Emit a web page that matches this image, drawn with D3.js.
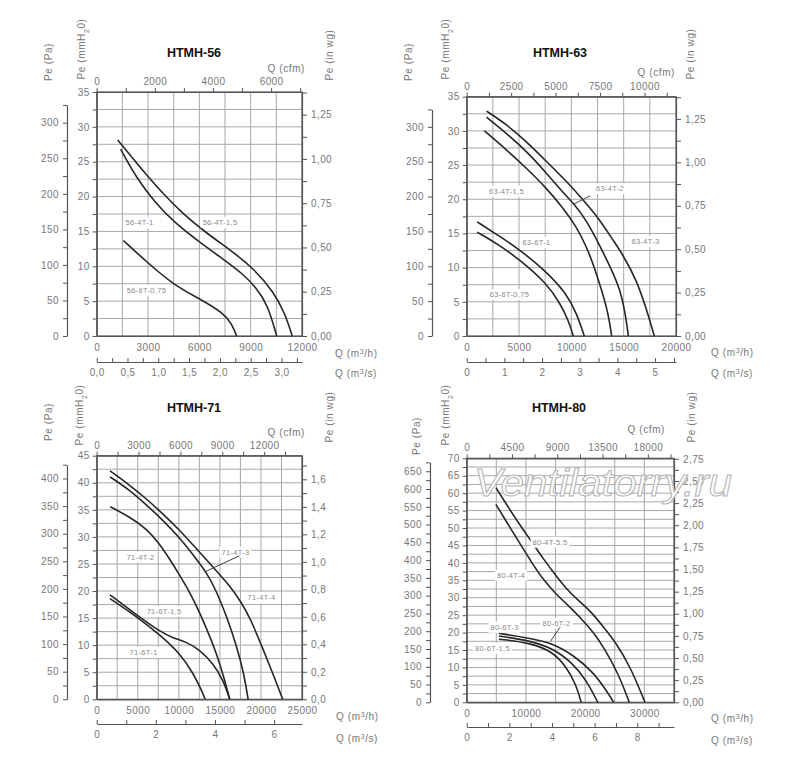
<!DOCTYPE html>
<html>
<head>
<meta charset="utf-8">
<script src="https://cdn.jsdelivr.net/npm/d3@7"></script>
<style>
  body { margin: 0; background: #fff; }
  text { font-family: "Liberation Sans", Arial, sans-serif; }
</style>
</head>
<body>
<svg id="chart" width="800" height="770"></svg>
<script>
// curves: [Q m3/h, Pe mmH2O]

var curves56 = [
  { name: "56-4T-1,5", pts: [[1230,28.1],[2500,24.3],[3800,20.6],[5000,17.6],[6500,14.6],[8000,12.0],[9200,9.6],[10320,6.4],[11000,3.3],[11430,0]] },
  { name: "56-4T-1",   pts: [[1400,26.8],[2340,22.6],[3400,19.2],[4480,16.4],[6040,13.4],[7520,10.8],[8500,9.0],[9300,7.0],[10000,4.5],[10520,0]] },
  { name: "56-6T-0,75", pts: [[1560,13.7],[3020,10.4],[4520,7.3],[6040,5.3],[7400,3.3],[7890,1.8],[8180,0]] }
];

var curves63 = [
  { name: "63-4T-3",   pts: [[1900,32.9],[3760,31.0],[5670,28.5],[7580,25.6],[9490,22.7],[11080,20.0],[12670,17.1],[13950,14.1],[14800,12.2],[16240,8.2],[17200,3.8],[17930,0]] },
  { name: "63-4T-2",   pts: [[1900,32.0],[3760,29.7],[5670,27.1],[7580,23.9],[9170,21.0],[10290,19.3],[11400,17.0],[12800,13.0],[13900,9.5],[14650,6.8],[15130,3.6],[15450,0]] },
  { name: "63-4T-1,5", pts: [[1690,30.0],[3760,27.3],[5670,24.6],[7580,21.7],[9170,18.8],[10440,16.1],[11400,13.2],[12100,10.5],[12900,6.7],[13530,3.3],[13850,0]] },
  { name: "63-6T-1",   pts: [[1000,16.7],[3120,14.6],[5000,12.7],[7480,9.6],[9550,6.2],[10510,3.3],[11240,0]] },
  { name: "63-6T-0,75", pts: [[1000,15.2],[3120,13.3],[5100,11.1],[7640,7.7],[8920,4.8],[9710,2.3],[10190,0]] }
];

var curves71 = [
  { name: "71-4T-4",   pts: [[1620,42.2],[3980,39.6],[6000,37.1],[8040,34.3],[10070,31.3],[12090,27.9],[14120,24.5],[16150,21.1],[17570,18.0],[18700,15.0],[20300,9.1],[21600,4.2],[22650,0]] },
  { name: "71-4T-3",   pts: [[1620,41.1],[3980,38.7],[6000,36.0],[8040,33.1],[10070,29.9],[12090,26.0],[13300,23.6],[14500,20.3],[15900,15.0],[17000,10.0],[17900,5.0],[18440,0]] },
  { name: "71-4T-2",   pts: [[1620,35.6],[3980,33.7],[6000,31.6],[7630,28.8],[8850,26.0],[10070,23.0],[11280,19.9],[12100,17.4],[13300,13.4],[14600,8.5],[15500,4.0],[16200,0]] },
  { name: "71-6T-1,5", pts: [[1620,19.3],[4860,15.6],[7700,12.5],[9320,11.3],[10940,10.6],[12560,9.1],[14180,6.6],[15400,3.6],[16200,0]] },
  { name: "71-6T-1",   pts: [[1620,18.6],[4860,15.3],[7700,11.9],[10130,8.5],[11750,4.8],[12760,1.7],[13210,0]] }
];

var curves80 = [
  { name: "80-4T-5,5", pts: [[4930,61.6],[7000,56.0],[9000,50.8],[11000,46.0],[13000,41.0],[15000,36.5],[17000,32.2],[19000,29.0],[21000,26.0],[23000,21.8],[25300,16.9],[27570,10.2],[29260,3.5],[30100,0]] },
  { name: "80-4T-4",   pts: [[4930,56.8],[7000,51.0],[9000,45.5],[11000,40.0],[13000,35.0],[15000,31.2],[17000,28.0],[19600,23.6],[21500,19.8],[23070,16.0],[25600,8.3],[27450,0]] },
  { name: "80-6T-3",   pts: [[5430,19.8],[10640,18.4],[14570,16.9],[17930,13.6],[21290,8.8],[23530,3.5],[24820,0]] },
  { name: "80-6T-2",   pts: [[5430,19.0],[10640,17.7],[14570,15.5],[17930,11.2],[20170,6.4],[22130,0]] },
  { name: "80-6T-1,5", pts: [[5430,18.1],[10640,17.1],[14570,14.5],[16810,10.2],[18490,5.0],[19330,0]] }
];

// curve tags: [text, Q, mm] (centre of the tag)
var tags56 = [["56-4T-1",2500,16.35],["56-4T-1,5",7210,16.35],["56-6T-0,75",2910,6.6]];
var tags63 = [["63-4T-1,5",3800,21.2],["63-4T-2",13690,21.6],["63-4T-3",17080,13.9],["63-6T-1",6670,13.75],["63-6T-0,75",4090,6.1]];
var tags71 = [["71-4T-2",5330,26.3],["71-4T-3",16900,27.2],["71-4T-4",20070,18.8],["71-6T-1,5",8200,16.3],["71-6T-1",5700,8.7]];
var tags80 = [["80-4T-5,5",14060,46.0],["80-4T-4",7480,36.5],["80-6T-3",6380,21.6],["80-6T-2",15160,22.75],["80-6T-1,5",4360,15.6]];

// leader lines: [Q1, mm1, Q2, mm2]
var leaders63 = [[11780,20.5,10250,19.3]];
var leaders71 = [[17360,26.5,13100,23.5]];
var leaders80 = [[15750,21.5,14180,17.6]];

var PA = 9.80665, INWG = 25.4, CFM = 1.699;

var svg = d3.select("#chart");
var grey = "#777";
var plain = d3.format("d");

function comma(dec) {
  return function(d) { return d.toFixed(dec).replace(".", ","); };
}
function near(a, b) { return Math.abs(a / b - Math.round(a / b)) < 1e-6; }

function vtitle(g, x, y, main, unit, sub, rest) {
  var t = g.append("text")
    .attr("transform", "translate(" + x + "," + y + ") rotate(-90)")
    .attr("text-anchor", "middle")
    .attr("font-size", 10).attr("fill", grey)
    .attr("letter-spacing", 0.6);
  t.append("tspan").text(main + " (" + unit);
  if (sub) {
    t.append("tspan").attr("baseline-shift", "sub").attr("font-size", 7).text(sub);
    t.append("tspan").text(rest);
  }
  t.append("tspan").text(")");
}

function qtitle(g, x, y, unit) {
  var t = g.append("text").attr("x", x).attr("y", y)
    .attr("font-size", 10).attr("fill", grey).attr("letter-spacing", 0.6);
  t.append("tspan").text("Q  (m");
  t.append("tspan").attr("baseline-shift", "super").attr("font-size", 7).text("3");
  t.append("tspan").text("/" + unit + ")");
}

function styleAxis(sel) {
  sel.selectAll("path.domain").attr("stroke", "#555").attr("stroke-width", 1.2);
  sel.selectAll(".tick line").attr("stroke", "#555").attr("stroke-width", 1);
  sel.selectAll(".tick text").attr("fill", grey).attr("font-size", 10)
    .attr("font-family", '"Liberation Sans", Arial, sans-serif').attr("letter-spacing", 0.4);
  return sel;
}

function drawPanel(p, curves, tags, leaders) {
  var g = svg.append("g");
  var x = d3.scaleLinear().domain([0, p.qMax]).range([p.x0, p.x1]);
  var y = d3.scaleLinear().domain([0, p.mmMax]).range([p.yBot, p.yTop]);
  var yPa = d3.scaleLinear().domain([0, p.paTop]).range([p.yBot, y(p.paTop / PA)]);
  var yIn = d3.scaleLinear().domain([0, p.mmMax / INWG]).range([p.yBot, p.yTop]);
  var xCfm = d3.scaleLinear().domain([0, p.qMax / CFM]).range([p.x0, p.x1]);
  var xS = d3.scaleLinear().domain([0, p.qMax / 3600]).range([p.x0, p.x1]);

  // grid
  g.append("g").selectAll("line").data(d3.range(p.gridQ, p.qMax, p.gridQ)).join("line")
    .attr("x1", function(d) { return x(d); }).attr("x2", function(d) { return x(d); })
    .attr("y1", p.yBot).attr("y2", p.yTop)
    .attr("stroke", "#a8a8a8").attr("stroke-width", 1);
  g.append("g").selectAll("line").data(d3.range(2.5, p.mmMax, 2.5)).join("line")
    .attr("x1", p.x0).attr("x2", p.x1)
    .attr("y1", function(d) { return y(d); }).attr("y2", function(d) { return y(d); })
    .attr("stroke", "#a8a8a8").attr("stroke-width", 1);

  // mmH2O, left edge
  styleAxis(g.append("g").attr("transform", "translate(" + p.x0 + ",0)")
    .call(d3.axisLeft(y).tickValues(d3.range(0, p.mmMax + 0.01, 2.5))
      .tickFormat(function(d) { return near(d, 5) ? plain(d) : ""; })
      .tickSize(4).tickSizeOuter(0).tickPadding(3)));

  // Pa, separate axis
  styleAxis(g.append("g").attr("transform", "translate(" + p.paX + ",0)")
    .call(d3.axisLeft(yPa).tickValues(d3.range(0, p.paTop + 0.01, 25))
      .tickFormat(function(d) { return near(d, 50) ? plain(d) : ""; })
      .tickSize(4).tickSizeOuter(0).tickPadding(4)));

  // in wg, right edge
  styleAxis(g.append("g").attr("transform", "translate(" + p.x1 + ",0)")
    .call(d3.axisRight(yIn).tickValues(d3.range(0, p.mmMax / INWG, p.inMinor))
      .tickFormat(function(d) { return near(d, p.inMajor) ? comma(p.inDec)(d) : ""; })
      .tickSize(5).tickSizeOuter(0).tickPadding(4)));

  // cfm, top edge
  styleAxis(g.append("g").attr("transform", "translate(0," + p.yTop + ")")
    .call(d3.axisTop(xCfm).tickValues(d3.range(0, p.qMax / CFM, p.cfmMinor))
      .tickFormat(function(d) { return near(d, p.cfmMajor) ? plain(d) : ""; })
      .tickSize(4).tickSizeOuter(0).tickPadding(3)));

  // m3/h, bottom edge
  styleAxis(g.append("g").attr("transform", "translate(0," + p.yBot + ")")
    .call(d3.axisBottom(x).tickValues(d3.range(0, p.qMax + 1, p.qLabel))
      .tickFormat(plain)
      .tickSize(0).tickSizeOuter(0).tickPadding(8)));

  // m3/s, separate axis below
  styleAxis(g.append("g").attr("transform", "translate(0," + p.sY + ")")
    .call(d3.axisBottom(xS).tickValues(d3.range(0, p.qMax / 3600, p.sMinor))
      .tickFormat(function(d) { return near(d, p.sMajor) ? comma(p.sDec)(d) : ""; })
      .tickSize(-4).tickSizeOuter(0).tickPadding(7)));

  // frame on top of grid
  g.append("rect").attr("x", p.x0).attr("y", p.yTop)
    .attr("width", p.x1 - p.x0).attr("height", p.yBot - p.yTop)
    .attr("fill", "none").attr("stroke", "#555").attr("stroke-width", 1.2);

  // watermark over grid and labels, under the curves
  if (p.mark) {
    g.append("text").attr("x", 474).attr("y", 496)
      .attr("font-size", 38).attr("font-style", "italic")
      .attr("textLength", 258).attr("lengthAdjust", "spacingAndGlyphs")
      .attr("fill", "#fff").attr("stroke", "#b4b4b4").attr("stroke-width", 1)
      .text("Ventilatorry.ru");
  }

  // titles
  g.append("text").attr("x", p.titleX).attr("y", p.titleY).attr("text-anchor", "middle")
    .attr("font-size", 12.5).attr("font-weight", "bold").attr("fill", "#111").text(p.title);
  vtitle(g, p.paT[0], p.paT[1], "Pe", "Pa");
  vtitle(g, p.mmT[0], p.mmT[1], "Pe", "mmH", "2", "0");
  vtitle(g, p.inT[0], p.inT[1], "Pe", "in  wg");
  g.append("text").attr("x", p.cfmT[0]).attr("y", p.cfmT[1]).attr("text-anchor", "end")
    .attr("font-size", 10).attr("fill", grey).attr("letter-spacing", 0.6).text("Q  (cfm)");
  qtitle(g, p.qT[0], p.qT[1], "h");
  qtitle(g, p.qT[0], p.qT[2], "s");

  // curves (basis spline smooths the hand-read points)
  var line = d3.line()
    .x(function(d) { return x(d[0]); })
    .y(function(d) { return y(d[1]); })
    .curve(d3.curveBasis);
  g.append("g").selectAll("path").data(curves).join("path")
    .attr("d", function(d) { return line(d.pts); })
    .attr("fill", "none").attr("stroke", "#262626").attr("stroke-width", 1.6);

  // curve tags with white boxes
  tags.forEach(function(t) {
    var tg = g.append("g");
    var tx = tg.append("text").attr("x", x(t[1])).attr("y", y(t[2]) + 2.8)
      .attr("text-anchor", "middle").attr("font-size", 7.5).attr("fill", "#8a8a8a")
      .attr("letter-spacing", 0.3).text(t[0]);
    var bb = tx.node().getBBox();
    tg.insert("rect", "text").attr("x", bb.x - 2).attr("y", bb.y - 1)
      .attr("width", bb.width + 4).attr("height", bb.height + 2).attr("fill", "#fff");
  });
  (leaders || []).forEach(function(l) {
    g.append("line").attr("x1", x(l[0])).attr("y1", y(l[1]))
      .attr("x2", x(l[2])).attr("y2", y(l[3]))
      .attr("stroke", "#444").attr("stroke-width", 1);
  });
}

drawPanel({ title: "HTMH-56", x0: 96.7, x1: 302, yTop: 92, yBot: 336, qMax: 12000, mmMax: 35,
  gridQ: 1500, qLabel: 3000, cfmMinor: 1000, cfmMajor: 2000, inMinor: 0.125, inMajor: 0.25, inDec: 2,
  sMinor: 0.25, sMajor: 0.5, sDec: 1, paTop: 325, paX: 67, sY: 362,
  titleX: 194, titleY: 57, paT: [52, 62], mmT: [85, 49], inT: [333, 55], cfmT: [305, 72], qT: [335, 357, 377] },
  curves56, tags56, []);

drawPanel({ title: "HTMH-63", x0: 466.7, x1: 676, yTop: 96.7, yBot: 336, qMax: 20000, mmMax: 35,
  gridQ: 2500, qLabel: 5000, cfmMinor: 1250, cfmMajor: 2500, inMinor: 0.125, inMajor: 0.25, inDec: 2,
  sMinor: 0.5, sMajor: 1, sDec: 0, paTop: 325, paX: 432, sY: 362,
  titleX: 560, titleY: 57, paT: [412, 62], mmT: [449, 49], inT: [694, 54], cfmT: [675, 76], qT: [711, 356, 377] },
  curves63, tags63, leaders63);

drawPanel({ title: "HTMH-71", x0: 96.7, x1: 302, yTop: 455.7, yBot: 699.3, qMax: 25000, mmMax: 45,
  gridQ: 2500, qLabel: 5000, cfmMinor: 1500, cfmMajor: 3000, inMinor: 0.1, inMajor: 0.2, inDec: 1,
  sMinor: 1, sMajor: 2, sDec: 0, paTop: 425, paX: 67, sY: 724,
  titleX: 194, titleY: 412, paT: [52, 422], mmT: [83, 415], inT: [333, 417], cfmT: [305, 436], qT: [336, 720, 742] },
  curves71, tags71, leaders71);

drawPanel({ title: "HTMH-80", x0: 466.7, x1: 674, yTop: 458.3, yBot: 702.3, qMax: 35000, mmMax: 70,
  gridQ: 5000, qLabel: 10000, cfmMinor: 2250, cfmMajor: 4500, inMinor: 0.125, inMajor: 0.25, inDec: 2,
  sMinor: 1, sMajor: 2, sDec: 0, paTop: 675, paX: 430, sY: 727,
  titleX: 559, titleY: 412, paT: [420, 436], mmT: [449, 415], inT: [695, 417], cfmT: [665, 433], qT: [711, 722, 744], mark: true },
  curves80, tags80, leaders80);
</script>
</body>
</html>
